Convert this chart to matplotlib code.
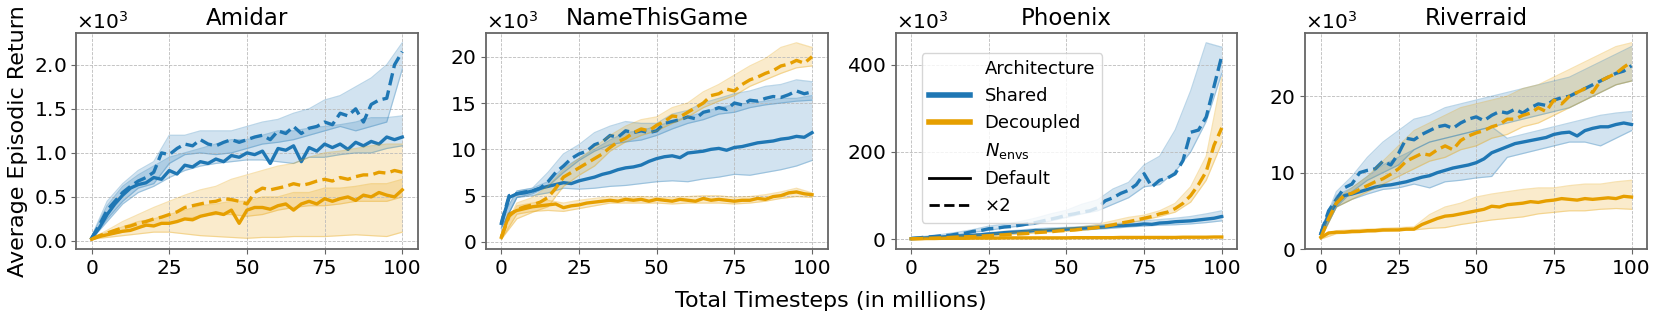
import numpy as np
import matplotlib
matplotlib.use("Agg")
from matplotlib import pyplot as plt
from matplotlib.lines import Line2D

# ---------------- datos (en miles) ----------------
games = ["Amidar", "NameThisGame", "Phoenix", "Riverraid"]
steps = np.arange(0, 100.1, 2.5)      # curva media, cada 2.5M
band_steps = np.arange(0, 100.1, 5)   # bandas, cada 5M

# Amidar
amidar_shared = [0.03, 0.15, 0.30, 0.42, 0.52, 0.60, 0.64, 0.66, 0.72, 0.70, 0.80, 0.76, 0.86, 0.84, 0.90, 0.88, 0.93, 0.90, 0.97, 0.95, 1.00,
                 0.98, 1.02, 0.88, 1.05, 1.03, 1.08, 0.90, 1.06, 1.02, 1.10, 1.06, 1.10, 1.04, 1.12, 1.08, 1.13, 1.10, 1.18, 1.15, 1.18]
amidar_shared_lo = [0.02, 0.22, 0.42, 0.55, 0.62, 0.72, 0.80, 0.85, 0.88, 0.90, 0.92, 0.92, 0.90, 0.88, 0.95, 0.95, 0.98, 1.00, 1.00, 1.05, 1.08]
amidar_shared_hi = [0.05, 0.40, 0.62, 0.75, 0.85, 0.95, 1.00, 1.05, 1.10, 1.15, 1.15, 1.20, 1.25, 1.25, 1.28, 1.30, 1.32, 1.35, 1.40, 1.40, 1.42]
amidar_shared2 = [0.03, 0.18, 0.35, 0.45, 0.55, 0.62, 0.68, 0.72, 0.78, 1.00, 0.98, 1.05, 1.10, 1.08, 1.15, 1.10, 1.08, 1.12, 1.15, 1.12, 1.15,
                  1.18, 1.20, 1.15, 1.25, 1.22, 1.30, 1.22, 1.28, 1.30, 1.35, 1.32, 1.45, 1.42, 1.50, 1.35, 1.55, 1.60, 1.62, 2.00, 2.15]
amidar_shared2_lo = [0.02, 0.25, 0.45, 0.60, 0.65, 0.88, 0.98, 1.00, 0.98, 1.00, 1.05, 1.10, 1.12, 1.15, 1.20, 1.25, 1.30, 1.25, 1.30, 1.35, 1.95]
amidar_shared2_hi = [0.05, 0.45, 0.65, 0.80, 0.90, 1.20, 1.20, 1.25, 1.25, 1.25, 1.30, 1.35, 1.38, 1.45, 1.50, 1.60, 1.65, 1.75, 1.85, 2.00, 2.25]
amidar_dec = [0.02, 0.05, 0.07, 0.09, 0.11, 0.12, 0.15, 0.18, 0.17, 0.20, 0.20, 0.22, 0.25, 0.24, 0.28, 0.30, 0.32, 0.30, 0.35, 0.20, 0.35,
              0.38, 0.38, 0.36, 0.40, 0.42, 0.35, 0.42, 0.45, 0.42, 0.48, 0.45, 0.48, 0.50, 0.46, 0.52, 0.50, 0.55, 0.52, 0.50, 0.58]
amidar_dec_lo = [0.02, 0.04, 0.06, 0.08, 0.10, 0.10, 0.08, 0.06, 0.05, 0.04, 0.03, 0.04, 0.04, 0.05, 0.05, 0.05, 0.06, 0.07, 0.06, 0.05, 0.10]
amidar_dec_hi = [0.03, 0.10, 0.16, 0.22, 0.25, 0.30, 0.35, 0.40, 0.42, 0.45, 0.45, 0.50, 0.50, 0.55, 0.55, 0.60, 0.60, 0.62, 0.65, 0.65, 0.70]
amidar_dec2 = [0.02, 0.06, 0.09, 0.12, 0.15, 0.17, 0.20, 0.22, 0.25, 0.27, 0.30, 0.33, 0.38, 0.40, 0.42, 0.44, 0.45, 0.48, 0.47, 0.45, 0.42,
               0.55, 0.60, 0.58, 0.60, 0.62, 0.65, 0.63, 0.65, 0.68, 0.70, 0.68, 0.72, 0.70, 0.73, 0.75, 0.75, 0.78, 0.77, 0.80, 0.78]
amidar_dec2_lo = [0.02, 0.07, 0.10, 0.15, 0.18, 0.20, 0.25, 0.28, 0.30, 0.30, 0.28, 0.30, 0.35, 0.38, 0.40, 0.40, 0.42, 0.45, 0.45, 0.45, 0.50]
amidar_dec2_hi = [0.03, 0.12, 0.22, 0.30, 0.38, 0.45, 0.52, 0.58, 0.62, 0.70, 0.75, 0.80, 0.85, 0.88, 0.95, 1.00, 1.02, 1.05, 1.08, 1.10, 1.10]

# NameThisGame
ntg_shared = [2.0, 4.8, 5.2, 5.3, 5.5, 5.8, 6.0, 6.2, 6.4, 6.3, 6.6, 6.8, 7.0, 7.3, 7.5, 7.8, 8.0, 8.1, 8.3, 8.7, 9.0,
              9.2, 9.3, 9.1, 9.6, 9.7, 9.8, 10.0, 10.1, 9.9, 10.2, 10.3, 10.5, 10.7, 10.8, 10.9, 11.1, 11.2, 11.4, 11.3, 11.8]
ntg_shared_lo = [1.5, 4.8, 5.0, 5.3, 5.8, 5.7, 5.8, 6.0, 6.1, 6.3, 6.5, 6.6, 6.5, 6.8, 7.0, 7.3, 7.2, 7.5, 7.8, 8.2, 8.8]
ntg_shared_hi = [2.5, 5.5, 5.8, 6.5, 8.0, 9.0, 10.0, 11.0, 11.8, 12.0, 12.5, 13.0, 13.5, 14.0, 14.5, 14.8, 15.0, 15.2, 15.5, 15.5, 15.8]
ntg_shared2 = [2.0, 5.0, 5.2, 5.4, 5.5, 5.8, 6.5, 7.5, 8.2, 9.0, 9.5, 9.8, 10.5, 10.8, 11.5, 11.3, 12.0, 11.8, 12.0, 11.8, 12.0,
               12.8, 13.0, 13.2, 13.5, 13.3, 14.0, 14.2, 14.5, 14.3, 15.0, 14.8, 15.3, 15.2, 15.5, 15.7, 15.6, 15.9, 16.3, 16.0, 16.2]
ntg_shared2_lo = [1.5, 4.8, 5.2, 6.0, 7.5, 8.8, 9.8, 10.5, 10.8, 11.0, 11.5, 12.2, 12.8, 13.2, 13.8, 14.0, 14.5, 14.8, 15.0, 15.2, 15.3]
ntg_shared2_hi = [2.5, 5.5, 5.8, 7.5, 9.5, 10.5, 11.8, 12.5, 13.0, 12.8, 12.8, 13.8, 14.2, 15.0, 15.5, 16.0, 16.3, 16.8, 17.0, 17.5, 17.3]
ntg_dec = [0.5, 3.0, 3.4, 3.6, 3.8, 3.9, 4.0, 4.1, 3.7, 3.9, 4.0, 4.2, 4.3, 4.4, 4.5, 4.4, 4.6, 4.5, 4.6, 4.4, 4.6,
           4.5, 4.4, 4.6, 4.5, 4.4, 4.7, 4.5, 4.6, 4.5, 4.4, 4.5, 4.5, 4.7, 4.6, 4.9, 5.0, 5.3, 5.4, 5.2, 5.1]
ntg_dec_lo = [0.3, 3.0, 3.3, 3.4, 3.3, 3.6, 3.9, 4.2, 4.2, 4.2, 4.2, 4.1, 4.2, 4.2, 4.2, 4.1, 4.2, 4.4, 4.7, 4.9, 4.8]
ntg_dec_hi = [0.8, 3.9, 4.2, 4.5, 4.2, 4.5, 4.7, 4.9, 4.8, 4.9, 4.8, 4.8, 4.9, 5.0, 5.0, 4.8, 4.9, 5.1, 5.4, 5.8, 5.3]
ntg_dec2 = [0.5, 2.8, 3.5, 3.8, 4.0, 4.3, 4.8, 5.8, 7.0, 7.5, 8.0, 8.5, 9.0, 9.5, 10.2, 10.8, 11.2, 11.8, 12.2, 12.0, 12.6,
            13.0, 13.6, 13.5, 14.0, 14.5, 15.0, 15.8, 16.0, 16.5, 16.3, 17.0, 17.5, 17.8, 18.2, 18.5, 19.0, 19.2, 19.6, 19.3, 20.0]
ntg_dec2_lo = [0.3, 2.5, 3.2, 3.8, 6.0, 7.2, 8.2, 9.8, 10.8, 11.5, 12.0, 12.8, 13.5, 14.5, 15.2, 15.8, 16.8, 17.5, 18.2, 18.8, 19.0]
ntg_dec2_hi = [0.8, 4.2, 4.8, 6.0, 7.8, 9.0, 10.2, 11.5, 12.5, 13.2, 13.5, 14.5, 15.0, 16.2, 17.0, 18.0, 19.0, 19.8, 21.0, 21.5, 21.0]

# Phoenix
phx_shared = [1, 2, 3, 4, 5, 6, 7, 8, 9, 10, 12, 13, 15, 16, 17, 18, 20, 20, 21, 22, 23,
              24, 25, 26, 27, 28, 30, 31, 32, 33, 35, 34, 37, 38, 40, 41, 42, 44, 46, 48, 52]
phx_shared_lo = [0, 2, 4, 6, 8, 10, 13, 16, 18, 19, 20, 21, 23, 25, 28, 30, 32, 33, 35, 38, 42]
phx_shared_hi = [2, 4, 7, 10, 12, 15, 18, 21, 24, 26, 27, 29, 32, 35, 38, 42, 45, 48, 52, 58, 65]
phx_shared2 = [2, 3, 5, 6, 8, 9, 12, 14, 18, 20, 24, 25, 28, 29, 32, 35, 38, 42, 46, 50, 55,
               58, 62, 65, 72, 88, 95, 105, 112, 125, 150, 120, 135, 140, 150, 180, 245, 250, 280, 350, 420]
phx_shared2_lo = [1, 4, 6, 10, 16, 20, 26, 30, 34, 42, 50, 58, 65, 80, 95, 120, 125, 155, 200, 270, 380]
phx_shared2_hi = [3, 7, 11, 16, 22, 30, 34, 40, 48, 58, 66, 80, 90, 115, 130, 170, 190, 250, 340, 450, 440]
phx_dec = [1, 1, 1.5, 1.5, 2, 2, 2, 2, 2.5, 2.5, 2.5, 2.5, 3, 3, 3, 3, 3, 3, 3, 3, 3,
           3.5, 3.5, 3.5, 3.5, 3.5, 3.5, 4, 4, 4, 4, 4, 4, 4, 4, 4.5, 4.5, 4.5, 4.5, 5, 5]
phx_dec_lo = [0.5, 1, 1.5, 1.5, 2, 2, 2.5, 2.5, 2.5, 2.5, 2.5, 3, 3, 3, 3, 3, 3.5, 3.5, 3.5, 4, 4]
phx_dec_hi = [1.5, 2, 2.5, 3, 3, 3.5, 3.5, 3.5, 4, 4, 4, 4, 4.5, 4.5, 4.5, 5, 5, 5, 5.5, 5.5, 6]
phx_dec2 = [1, 1.5, 2, 2.5, 3, 4, 5, 5.5, 6, 7, 8, 9, 10, 11, 12, 13, 15, 16, 17, 19, 20,
            21, 23, 25, 27, 30, 33, 37, 40, 44, 48, 52, 58, 62, 70, 82, 100, 125, 155, 215, 255]
phx_dec2_lo = [0, 1, 2, 4, 5, 7, 9, 12, 14, 16, 18, 20, 24, 30, 38, 44, 52, 62, 85, 135, 220]
phx_dec2_hi = [2, 3, 5, 7, 9, 11, 13, 17, 20, 23, 25, 28, 34, 42, 50, 55, 65, 82, 120, 190, 370]

# Riverraid
rr_shared = [2.0, 4.5, 6.0, 7.0, 7.2, 7.5, 7.8, 8.1, 8.3, 8.4, 8.6, 8.8, 9.1, 9.4, 9.6, 10.0, 10.3, 10.6, 10.8, 11.0, 11.3,
             11.8, 12.6, 13.0, 13.4, 13.8, 14.0, 14.2, 14.4, 14.6, 15.0, 15.2, 15.3, 14.8, 15.5, 15.8, 16.0, 16.0, 16.3, 16.5, 16.3]
rr_shared_lo = [1.5, 5.5, 6.5, 7.2, 7.8, 8.0, 8.5, 8.0, 8.8, 9.0, 9.3, 9.5, 12.0, 12.5, 13.0, 13.5, 14.0, 14.0, 13.5, 14.5, 15.5]
rr_shared_hi = [2.5, 7.0, 8.0, 9.5, 11.0, 12.0, 13.0, 14.0, 14.5, 15.0, 15.5, 16.0, 14.5, 15.0, 15.5, 16.0, 16.5, 17.0, 17.5, 17.8, 18.0]
rr_shared2 = [2.0, 5.0, 6.5, 8.0, 8.5, 10.0, 10.3, 10.5, 11.5, 11.0, 12.5, 14.5, 14.3, 15.0, 15.5, 16.0, 16.2, 15.8, 16.5, 17.0, 17.3,
              16.8, 17.5, 18.0, 17.8, 18.3, 17.8, 18.5, 19.0, 18.8, 19.5, 19.8, 20.0, 20.5, 21.0, 21.5, 22.0, 22.5, 23.0, 23.3, 24.0]
rr_shared2_lo = [1.5, 5.5, 7.5, 9.0, 10.0, 11.0, 13.0, 14.0, 14.5, 15.0, 15.5, 16.0, 16.5, 17.0, 17.5, 18.0, 18.5, 19.5, 20.5, 21.5, 22.0]
rr_shared2_hi = [2.5, 7.5, 9.5, 12.0, 14.0, 15.5, 17.0, 17.5, 18.5, 19.0, 19.5, 20.0, 20.5, 21.0, 21.5, 22.0, 22.5, 23.5, 24.5, 25.5, 26.5]
rr_dec = [1.5, 2.1, 2.2, 2.2, 2.3, 2.3, 2.4, 2.4, 2.5, 2.5, 2.5, 2.6, 2.6, 3.2, 3.6, 4.0, 4.3, 4.4, 4.6, 4.8, 5.0,
          5.2, 5.6, 5.5, 5.8, 5.9, 6.0, 6.2, 6.1, 6.3, 6.4, 6.6, 6.5, 6.4, 6.6, 6.5, 6.6, 6.7, 6.6, 6.9, 6.8]
rr_dec_lo = [1.3, 2.0, 2.1, 2.2, 2.3, 2.4, 2.5, 2.7, 2.8, 3.2, 3.5, 3.8, 4.0, 4.2, 4.6, 4.8, 5.0, 5.0, 5.2, 5.3, 5.2]
rr_dec_hi = [1.7, 2.4, 2.5, 2.6, 2.7, 2.8, 2.9, 4.5, 5.5, 6.0, 6.8, 7.2, 7.5, 7.8, 8.0, 8.0, 8.3, 8.5, 8.5, 8.8, 9.0]
rr_dec2 = [1.5, 4.0, 6.0, 7.0, 7.3, 7.8, 8.3, 8.8, 9.2, 9.8, 10.5, 11.5, 12.0, 12.5, 12.3, 13.0, 13.5, 13.0, 14.2, 14.8, 15.2,
           15.5, 16.0, 16.3, 17.0, 17.0, 17.5, 17.8, 18.5, 18.0, 19.5, 19.0, 20.0, 20.5, 21.0, 20.5, 22.0, 22.5, 23.0, 23.8, 24.5]
rr_dec2_lo = [1.3, 5.5, 6.5, 7.5, 8.5, 9.5, 10.5, 11.5, 12.0, 13.0, 13.5, 14.5, 15.0, 16.0, 16.5, 17.5, 18.5, 19.5, 20.5, 21.5, 22.0]
rr_dec2_hi = [1.7, 6.5, 8.0, 9.5, 11.5, 13.5, 15.5, 16.5, 17.5, 18.5, 19.0, 19.5, 20.0, 21.0, 21.5, 22.5, 23.5, 24.5, 25.5, 26.5, 27.0]

yticks = {
    "Amidar": [0, 0.5, 1.0, 1.5, 2.0],
    "NameThisGame": [0, 5, 10, 15, 20],
    "Phoenix": [0, 200, 400],
    "Riverraid": [0, 10, 20],
}

series = {
    "Amidar": [
        ("Shared", "-", amidar_shared, amidar_shared_lo, amidar_shared_hi),
        ("Decoupled", "-", amidar_dec, amidar_dec_lo, amidar_dec_hi),
        ("Shared", "--", amidar_shared2, amidar_shared2_lo, amidar_shared2_hi),
        ("Decoupled", "--", amidar_dec2, amidar_dec2_lo, amidar_dec2_hi),
    ],
    "NameThisGame": [
        ("Shared", "-", ntg_shared, ntg_shared_lo, ntg_shared_hi),
        ("Decoupled", "-", ntg_dec, ntg_dec_lo, ntg_dec_hi),
        ("Shared", "--", ntg_shared2, ntg_shared2_lo, ntg_shared2_hi),
        ("Decoupled", "--", ntg_dec2, ntg_dec2_lo, ntg_dec2_hi),
    ],
    "Phoenix": [
        ("Shared", "-", phx_shared, phx_shared_lo, phx_shared_hi),
        ("Decoupled", "-", phx_dec, phx_dec_lo, phx_dec_hi),
        ("Shared", "--", phx_shared2, phx_shared2_lo, phx_shared2_hi),
        ("Decoupled", "--", phx_dec2, phx_dec2_lo, phx_dec2_hi),
    ],
    "Riverraid": [
        ("Shared", "-", rr_shared, rr_shared_lo, rr_shared_hi),
        ("Decoupled", "-", rr_dec, rr_dec_lo, rr_dec_hi),
        ("Shared", "--", rr_shared2, rr_shared2_lo, rr_shared2_hi),
        ("Decoupled", "--", rr_dec2, rr_dec2_lo, rr_dec2_hi),
    ],
}

colors = {"Shared": "#1f77b4", "Decoupled": "#e69f00"}

# ---------------- figura ----------------
plt.rcParams["font.family"] = "DejaVu Sans"
plt.rcParams["xtick.labelsize"] = 14.5
plt.rcParams["ytick.labelsize"] = 14.5

fig, axes = plt.subplots(1, 4, figsize=(16.61, 3.14), dpi=100)
fig.subplots_adjust(left=0.0458, right=0.9916, top=0.895, bottom=0.207, wspace=0.199)

for ax, game in zip(axes, games):
    for arch, ls, mean, lo, hi in series[game]:
        c = colors[arch]
        mean = np.array(mean) * 1e3
        lo = np.array(lo) * 1e3
        hi = np.array(hi) * 1e3
        ax.fill_between(band_steps, lo, hi, color=c, alpha=0.2, lw=0)
        ax.plot(band_steps, lo, color=c, alpha=0.3, lw=0.9)
        ax.plot(band_steps, hi, color=c, alpha=0.3, lw=0.9)
        ax.plot(steps, mean, color=c, ls=ls, lw=2.4)

    ax.set_title(game, fontsize=16.5)
    ax.set_xticks([0, 25, 50, 75, 100])
    ax.set_yticks(np.array(yticks[game]) * 1e3)
    ax.ticklabel_format(axis="y", style="sci", scilimits=(3, 3), useMathText=True)
    ax.yaxis.get_offset_text().set_fontsize(14.5)
    ax.grid(True, ls="--", lw=0.6, color="#bbbbbb")
    for s in ax.spines.values():
        s.set_color("#666666")
        s.set_linewidth(1.3)
    ax.tick_params(color="#666666")

axes[3].set_ylim(bottom=0)
axes[0].set_ylabel("Average Episodic Return", fontsize=16)
fig.supxlabel("Total Timesteps (in millions)", fontsize=16, y=0.01)

# leyenda en Phoenix
blank = Line2D([], [], ls="none")
handles = [blank,
           Line2D([], [], color=colors["Shared"], lw=4),
           Line2D([], [], color=colors["Decoupled"], lw=4),
           blank,
           Line2D([], [], color="black", lw=2),
           Line2D([], [], color="black", lw=2, ls="--")]
labels = ["Architecture", "Shared", "Decoupled", r"$N_{\rm envs}$", "Default", "×2"]
axes[2].legend(handles, labels, loc="upper left", bbox_to_anchor=(0.076, 0.907),
               borderaxespad=0, fontsize=13, handlelength=2.3)

fig.savefig("out.png", dpi=100)
